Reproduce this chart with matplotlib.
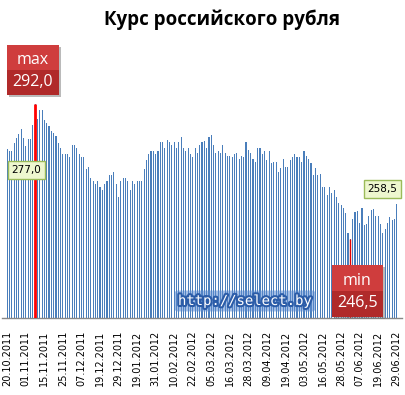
import matplotlib
matplotlib.use("Agg")
import matplotlib.pyplot as plt
from matplotlib.patches import Rectangle, FancyBboxPatch
import matplotlib.patheffects as pe

title = "Курс российского рубля"

values = [
    277.0, 276.2, 276.2, 279.0, 280.7, 281.9, 283.8, 280.7, 277.9, 280.2,
    280.2, 284.9, 292.0, 286.9, 289.9, 289.9, 286.6, 285.5, 284.6, 283.0,
    282.4, 281.3, 279.0, 277.3, 275.1, 275.1, 275.1, 274.2, 278.1, 278.1,
    277.1, 275.1, 274.1, 274.1, 270.0, 271.0, 267.0, 266.0, 265.0, 266.0,
    264.0, 263.0, 265.0, 266.0, 268.0, 268.0, 269.0, 265.0, 260.9, 266.0,
    267.0, 267.0, 266.0, 263.0, 266.0, 265.0, 266.0, 266.0, 266.0, 270.0,
    273.1, 275.1, 276.1, 276.1, 275.1, 276.1, 279.1, 279.1, 277.1, 280.1,
    279.1, 278.1, 279.1, 277.1, 279.1, 280.8, 277.1, 276.1, 277.1, 275.1,
    274.1, 277.4, 275.4, 278.4, 279.1, 279.5, 277.1, 280.8, 281.5, 278.1,
    275.4, 276.1, 275.4, 278.1, 275.4, 274.4, 274.4, 274.1, 275.1, 275.4,
    273.4, 274.4, 274.1, 279.1, 276.4, 275.4, 273.4, 272.4, 277.1, 277.1,
    275.1, 276.1, 273.1, 276.1, 272.1, 272.4, 272.4, 269.0, 270.4, 273.4,
    271.0, 271.0, 273.1, 274.1, 275.1, 274.1, 274.1, 272.4, 276.1, 274.4,
    273.4, 272.1, 268.0, 270.4, 268.0, 268.4, 264.0, 264.0, 261.3, 264.0,
    262.0, 263.0, 260.9, 258.6, 257.9, 257.2, 255.2, 248.5, 246.5, 253.5,
    255.6, 255.9, 251.9, 256.9, 251.2, 251.5, 254.5, 256.2, 256.6, 254.5,
    254.5, 251.5, 248.5, 249.8, 251.9, 253.9, 252.9, 253.5, 258.5,
]

tick_labels = [
    "20.10.2011", "01.11.2011", "15.11.2011", "25.11.2011", "07.12.2011",
    "19.12.2011", "29.12.2011", "19.01.2012", "31.01.2012", "10.02.2012",
    "22.02.2012", "05.03.2012", "16.03.2012", "28.03.2012", "09.04.2012",
    "19.04.2012", "03.05.2012", "16.05.2012", "28.05.2012", "07.06.2012",
    "19.06.2012", "29.06.2012",
]
label_step = 8

max_label = "max"
min_label = "min"
first_label = "277,0"
last_label = "258,5"
max_text = "292,0"
min_text = "246,5"
watermark = "http://select.by"

W, H = 406, 395
fig = plt.figure(figsize=(W / 100, H / 100), dpi=100)
fig.patch.set_facecolor("white")

def fx(x):
    return x / W

def fy(y):
    return 1 - y / H

# axes geometry (pixels)
L, R, TOP, BASE = 2, 402, 60, 318
x0, dx = 7.3, 2.318
ppu = 2.97
ax = fig.add_axes([fx(L), fy(BASE), (R - L) / W, (BASE - TOP) / H])
ymin = 220.0
ax.set_ylim(ymin, ymin + (BASE - TOP) / ppu)
ax.set_xlim((L - x0) / dx, (R - x0) / dx)

n = len(values)
xs = list(range(n))
ax.bar(xs, [v - ymin for v in values], bottom=ymin, width=0.48,
       color="#4A7EBB", linewidth=0, zorder=2)

imax = values.index(max(values))
imin = values.index(min(values))
ax.vlines(imax, ymin, values[imax], color="#FF0000", linewidth=2.0, zorder=3)
ax.vlines(imin, ymin, values[imin], color="#E00000", linewidth=1.0, zorder=3)

ax.set_xticks(xs[::label_step])
ax.set_xticklabels(tick_labels, rotation=90, fontsize=7, family="DejaVu Sans")
ax.tick_params(axis="x", length=0, pad=9)
ax.set_yticks([])
for s in ["top", "right", "left"]:
    ax.spines[s].set_visible(False)
ax.spines["bottom"].set_color("#888888")
ax.spines["bottom"].set_linewidth(1.0)
ax.patch.set_alpha(0)

# title
fig.text(fx(222), fy(20), title, ha="center", va="center",
         fontsize=13.5, fontweight="bold", family="Open Sans", color="black")

def red_box(x1, y1, x2, y2, top_txt, bot_txt):
    # shadow
    fig.patches.append(Rectangle((fx(x1 + 2), fy(y2 + 2)), (x2 - x1) / W, (y2 - y1) / H,
                                 transform=fig.transFigure, facecolor="#777777",
                                 alpha=0.5, edgecolor="none", zorder=5))
    ym = (y1 + y2) / 2
    fig.patches.append(Rectangle((fx(x1), fy(ym)), (x2 - x1) / W, (ym - y1) / H,
                                 transform=fig.transFigure, facecolor="#CF3D3D",
                                 edgecolor="none", zorder=6))
    fig.patches.append(Rectangle((fx(x1), fy(y2)), (x2 - x1) / W, (y2 - ym) / H,
                                 transform=fig.transFigure, facecolor="#B02A2A",
                                 edgecolor="none", zorder=6))
    cx = (x1 + x2) / 2
    fig.text(fx(cx), fy(y1 + (y2 - y1) * 0.30), top_txt, ha="center", va="center",
             fontsize=11.5, color="white", family="Open Sans", zorder=7)
    fig.text(fx(cx), fy(y1 + (y2 - y1) * 0.74), bot_txt, ha="center", va="center",
             fontsize=11.5, color="white", family="Open Sans", zorder=7)

red_box(7, 45, 59, 95, max_label, max_text)
red_box(332, 265, 383, 317, min_label, min_text)

def green_box(cx, cy, txt):
    fig.text(fx(cx), fy(cy), txt, ha="center", va="center", fontsize=7.5,
             family="DejaVu Sans", color="black", zorder=8,
             bbox=dict(boxstyle="square,pad=0.35", facecolor="#EEF7CF",
                       edgecolor="#9BBB59", linewidth=1.0))

green_box(26.5, 170, first_label)
green_box(382.5, 189, last_label)

fig.text(fx(245), fy(301), watermark, ha="center", va="center", fontsize=10,
         family="DejaVu Sans Mono", color="white", zorder=8,
         path_effects=[pe.withStroke(linewidth=3, foreground="#2B5CA8")],
         bbox=dict(boxstyle="round,pad=0.25", facecolor="#5A8AD0", alpha=0.55,
                   edgecolor="none"))

fig.savefig("out.png", dpi=100, facecolor="white")
